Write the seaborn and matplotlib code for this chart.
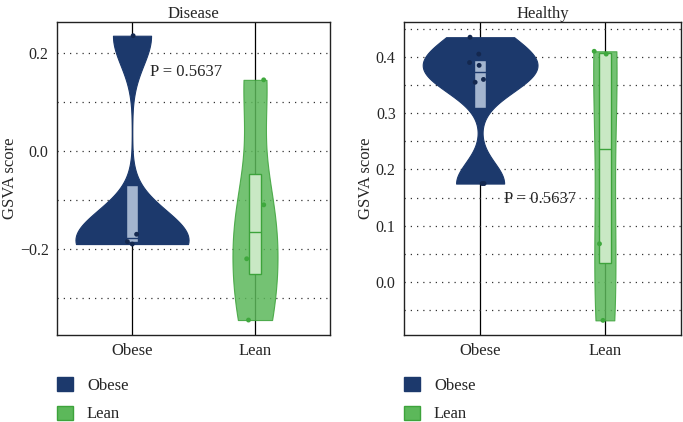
import numpy as np
import pandas as pd
import seaborn as sns
import matplotlib.pyplot as plt
from matplotlib.patches import Patch
from matplotlib.ticker import MultipleLocator

groups = ["Obese", "Lean"]

disease_obese = [0.235, -0.17, -0.185, -0.19]
disease_lean = [0.145, -0.11, -0.22, -0.345]
healthy_obese = [0.435, 0.405, 0.39, 0.385, 0.36, 0.355, 0.175, 0.175]
healthy_lean = [0.41, 0.405, 0.068, -0.068]

p_text = "P = 0.5637"

fill = {"Obese": "#1c396c", "Lean": "#5cb85a"}
edge = {"Obese": "#1c396c", "Lean": "#3da33b"}
box_fill = {"Obese": "#a3b5cf", "Lean": "#c9e8c4"}
dot = {"Obese": "#14284f", "Lean": "#3fa83d"}

sns.set_style("white")
plt.rcParams["font.family"] = ["Liberation Serif", "DejaVu Serif"]
plt.rcParams["font.size"] = 12

np.random.seed(3)


def nrd0(kde):
    # R-style default bandwidth (bw.nrd0), returned as a factor for scipy
    x = kde.dataset.ravel()
    sd = np.std(x, ddof=1)
    iqr = np.subtract(*np.percentile(x, [75, 25]))
    bw = 0.9 * min(sd, iqr / 1.34) * x.size ** -0.2
    return bw / sd


fig = plt.figure(figsize=(6.83, 4.22), dpi=100)
ax1 = fig.add_axes([57 / 683, 1 - 335 / 422, 273 / 683, 313 / 422])
ax2 = fig.add_axes([404 / 683, 1 - 335 / 422, 277 / 683, 313 / 422])


def panel(ax, obese, lean, title, ylim, major, minor, ptxt):
    df = pd.DataFrame({
        "group": ["Obese"] * len(obese) + ["Lean"] * len(lean),
        "score": obese + lean,
    })
    ax.set_axisbelow(True)
    sns.violinplot(data=df, x="group", y="score", hue="group", order=groups,
                   hue_order=groups, palette=fill, cut=0, inner=None,
                   bw_method=nrd0, width=0.92, saturation=1, linewidth=0.8,
                   density_norm="area", common_norm=True,
                   legend=False, ax=ax)
    for coll, g in zip(ax.collections, groups):
        coll.set_edgecolor(edge[g])
        if g == "Lean":
            coll.set_alpha(0.85)
    for g in groups:
        sub = df[df.group == g]
        sns.boxplot(data=sub, x="group", y="score", order=groups, color=box_fill[g],
                    linecolor=edge[g], width=0.1, showfliers=False, showcaps=False,
                    whiskerprops={"linewidth": 0}, linewidth=1.0, saturation=1, ax=ax)
    sns.stripplot(data=df, x="group", y="score", hue="group", order=groups,
                  hue_order=groups, palette=dot, size=3.5, jitter=0.09,
                  legend=False, ax=ax)
    ax.set_xlim(-0.61, 1.61)
    ax.set_ylim(*ylim)
    ax.yaxis.set_major_locator(MultipleLocator(major))
    ax.yaxis.set_minor_locator(MultipleLocator(minor))
    ax.xaxis.grid(True, color="black", lw=0.9, ls="-")
    ax.yaxis.grid(True, which="both", color="#333333", lw=0.9, ls=(0, (1, 4)))
    ax.tick_params(axis="y", which="both", length=0, pad=6, labelsize=11.5)
    ax.tick_params(axis="x", length=3, color="black", pad=3)
    ax.set_xlabel("")
    ax.set_ylabel("GSVA score", labelpad=1)
    ax.set_title(title, fontsize=12, pad=3)
    for s in ax.spines.values():
        s.set_color("#222222")
        s.set_linewidth(1.0)
    ax.text(ptxt[0], ptxt[1], p_text, ha="left", va="center")


panel(ax1, disease_obese, disease_lean, "Disease", (-0.3755, 0.263), 0.2, 0.1,
      (0.15, 0.162))
panel(ax2, healthy_obese, healthy_lean, "Healthy", (-0.094, 0.462), 0.1, 0.05,
      (0.19, 0.148))

handles = [Patch(facecolor=fill[g], edgecolor=edge[g], label=g) for g in groups]
for x0 in (57 / 683, 404 / 683):
    fig.legend(handles=handles, loc="upper left", bbox_to_anchor=(x0, 1 - 377 / 422),
               frameon=False, borderpad=0, borderaxespad=0,
               handlelength=0.95, handleheight=0.95, handletextpad=0.85,
               labelspacing=0.7, fontsize=12)

fig.savefig("out.png", dpi=100)
